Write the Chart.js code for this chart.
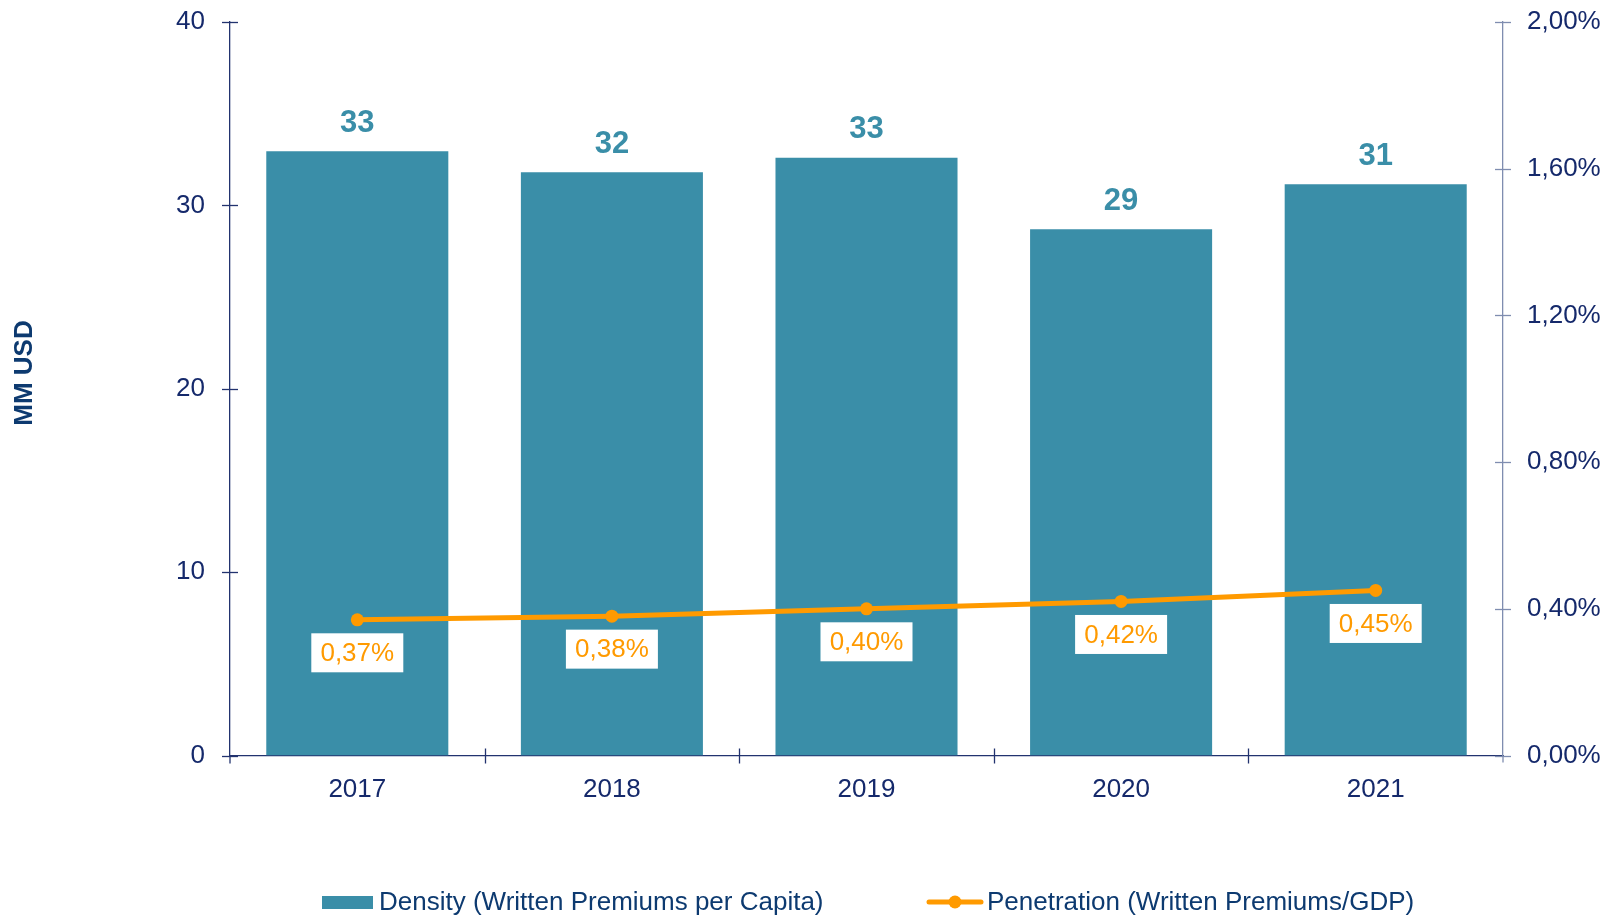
<!DOCTYPE html>
<html>
<head>
<meta charset="utf-8">
<script src="https://cdn.jsdelivr.net/npm/chart.js@4/dist/chart.umd.min.js"></script>
<style>
  html, body { margin: 0; padding: 0; background: #fff; }
  #wrap { width: 1614px; height: 917px; }
</style>
</head>
<body>
<div id="wrap"><canvas id="densityChart" width="1614" height="917"></canvas></div>
<script>
// years on the x axis
var years = ['2017', '2018', '2019', '2020', '2021'];
// density, written premiums per capita (MM USD)
var densityValues = [32.95, 31.8, 32.6, 28.7, 31.15];
// penetration, written premiums / GDP (%)
var penetrationValues = [0.37, 0.38, 0.40, 0.42, 0.45];
var leftTicks = [0, 10, 20, 30, 40];
var rightTicks = [0, 0.4, 0.8, 1.2, 1.6, 2.0];

var densityLabel = 'Density (Written Premiums per Capita)';
var penetrationLabel = 'Penetration (Written Premiums/GDP)';
var yTitle = 'MM USD';

var TEAL = '#3a8ea8';
var ORANGE = '#ff9a00';
var NAVY = '#15296b';
var FONT = 'Arial, "Liberation Sans", sans-serif';

function pct(v) {
  return v.toFixed(2).replace('.', ',') + '%';
}

// fixed axis widths, no extra room for the end labels
function fixWidth(w) {
  return function (s) {
    s.width = w;
    s.paddingTop = 0;
    s.paddingBottom = 0;
  };
}

// crossing tick marks, value labels, axis title and legend
var decorations = {
  id: 'decorations',
  afterDraw: function (chart) {
    var ctx = chart.ctx;
    var area = chart.chartArea;
    var x = chart.scales.x, y = chart.scales.y, y2 = chart.scales.y2;

    ctx.save();
    ctx.lineWidth = 1.3;

    // left axis ticks
    ctx.strokeStyle = '#22336f';
    leftTicks.forEach(function (t) {
      var py = Math.round(y.getPixelForValue(t)) + 0.5;
      ctx.beginPath();
      ctx.moveTo(area.left - 8, py);
      ctx.lineTo(area.left + 8, py);
      ctx.stroke();
    });
    // left axis runs a little below the x axis
    ctx.beginPath();
    ctx.moveTo(area.left, area.bottom);
    ctx.lineTo(area.left, area.bottom + 8);
    ctx.stroke();

    // category boundaries on the x axis
    for (var i = 1; i < years.length; i++) {
      var bx = Math.round((x.getPixelForValue(i - 1) + x.getPixelForValue(i)) / 2) + 0.5;
      ctx.beginPath();
      ctx.moveTo(bx, area.bottom - 7);
      ctx.lineTo(bx, area.bottom + 8);
      ctx.stroke();
    }

    // right axis ticks
    ctx.strokeStyle = '#7f8db0';
    rightTicks.forEach(function (t) {
      var py = Math.round(y2.getPixelForValue(t)) + 0.5;
      ctx.beginPath();
      ctx.moveTo(area.right - 8, py);
      ctx.lineTo(area.right + 8, py);
      ctx.stroke();
    });
    ctx.beginPath();
    ctx.moveTo(area.right, area.bottom);
    ctx.lineTo(area.right, area.bottom + 7);
    ctx.stroke();

    // bar values
    var barMeta = chart.getDatasetMeta(0);
    ctx.fillStyle = TEAL;
    ctx.font = 'bold 31px ' + FONT;
    ctx.textAlign = 'center';
    ctx.textBaseline = 'middle';
    barMeta.data.forEach(function (bar, i) {
      ctx.fillText(Math.round(densityValues[i]).toString(), bar.x, bar.y - 28);
    });

    // line values in white boxes
    var lineMeta = chart.getDatasetMeta(1);
    ctx.font = '26px ' + FONT;
    lineMeta.data.forEach(function (pt, i) {
      var cy = pt.y + 33;
      ctx.fillStyle = '#ffffff';
      ctx.fillRect(pt.x - 46, cy - 19.5, 92, 39);
      ctx.fillStyle = ORANGE;
      ctx.fillText(pct(penetrationValues[i]), pt.x, cy + 1);
    });

    // y axis title
    ctx.save();
    ctx.translate(25, 373);
    ctx.rotate(-Math.PI / 2);
    ctx.fillStyle = '#0d3a70';
    ctx.font = 'bold 26px ' + FONT;
    ctx.fillText(yTitle, 0, 0);
    ctx.restore();

    // legend
    var ly = 902;
    ctx.fillStyle = TEAL;
    ctx.fillRect(322, ly - 6, 51, 13);
    ctx.strokeStyle = ORANGE;
    ctx.lineWidth = 5;
    ctx.lineCap = 'round';
    ctx.beginPath();
    ctx.moveTo(929, ly);
    ctx.lineTo(981, ly);
    ctx.stroke();
    ctx.fillStyle = ORANGE;
    ctx.beginPath();
    ctx.arc(955, ly, 6.5, 0, Math.PI * 2);
    ctx.fill();

    ctx.fillStyle = '#0d3a70';
    ctx.font = '26px ' + FONT;
    ctx.textAlign = 'left';
    ctx.fillText(chart.data.datasets[0].label, 379, ly + 1);
    ctx.fillText(chart.data.datasets[1].label, 987, ly + 1);
    ctx.restore();
  }
};

var ctx = document.getElementById('densityChart').getContext('2d');
var chart = new Chart(ctx, {
  type: 'bar',
  data: {
    labels: years,
    datasets: [{
      type: 'bar',
      label: densityLabel,
      data: densityValues,
      backgroundColor: TEAL,
      borderWidth: 0,
      categoryPercentage: 1,
      barPercentage: 0.715,
      yAxisID: 'y',
      order: 2
    }, {
      type: 'line',
      label: penetrationLabel,
      data: penetrationValues,
      borderColor: ORANGE,
      backgroundColor: ORANGE,
      borderWidth: 5,
      pointRadius: 6.5,
      pointBorderWidth: 0,
      tension: 0,
      yAxisID: 'y2',
      order: 1
    }]
  },
  options: {
    responsive: false,
    animation: false,
    layout: { padding: { top: 22, bottom: 0, left: 0, right: 0 } },
    plugins: {
      legend: { display: false },
      tooltip: { enabled: false }
    },
    scales: {
      x: {
        grid: { display: false, drawTicks: false },
        border: { display: true, color: '#22336f', width: 1.3 },
        ticks: { color: NAVY, font: { family: FONT, size: 26 }, padding: 19 },
        afterFit: function (s) {
          s.height = 161.5;
          s.paddingLeft = 0;
          s.paddingRight = 0;
        }
      },
      y: {
        position: 'left',
        min: 0,
        max: 40,
        grid: { display: false, drawTicks: false },
        border: { display: true, color: '#22336f', width: 1.3 },
        ticks: { stepSize: 10, color: NAVY, font: { family: FONT, size: 26 }, padding: 25 },
        afterFit: fixWidth(230)
      },
      y2: {
        position: 'right',
        min: 0,
        max: 2,
        grid: { display: false, drawTicks: false },
        border: { display: true, color: '#7f8db0', width: 1.3 },
        ticks: {
          stepSize: 0.4,
          color: NAVY,
          font: { family: FONT, size: 26 },
          padding: 24,
          callback: function (v) { return pct(v); }
        },
        afterFit: fixWidth(111)
      }
    }
  },
  plugins: [decorations]
});
</script>
</body>
</html>
